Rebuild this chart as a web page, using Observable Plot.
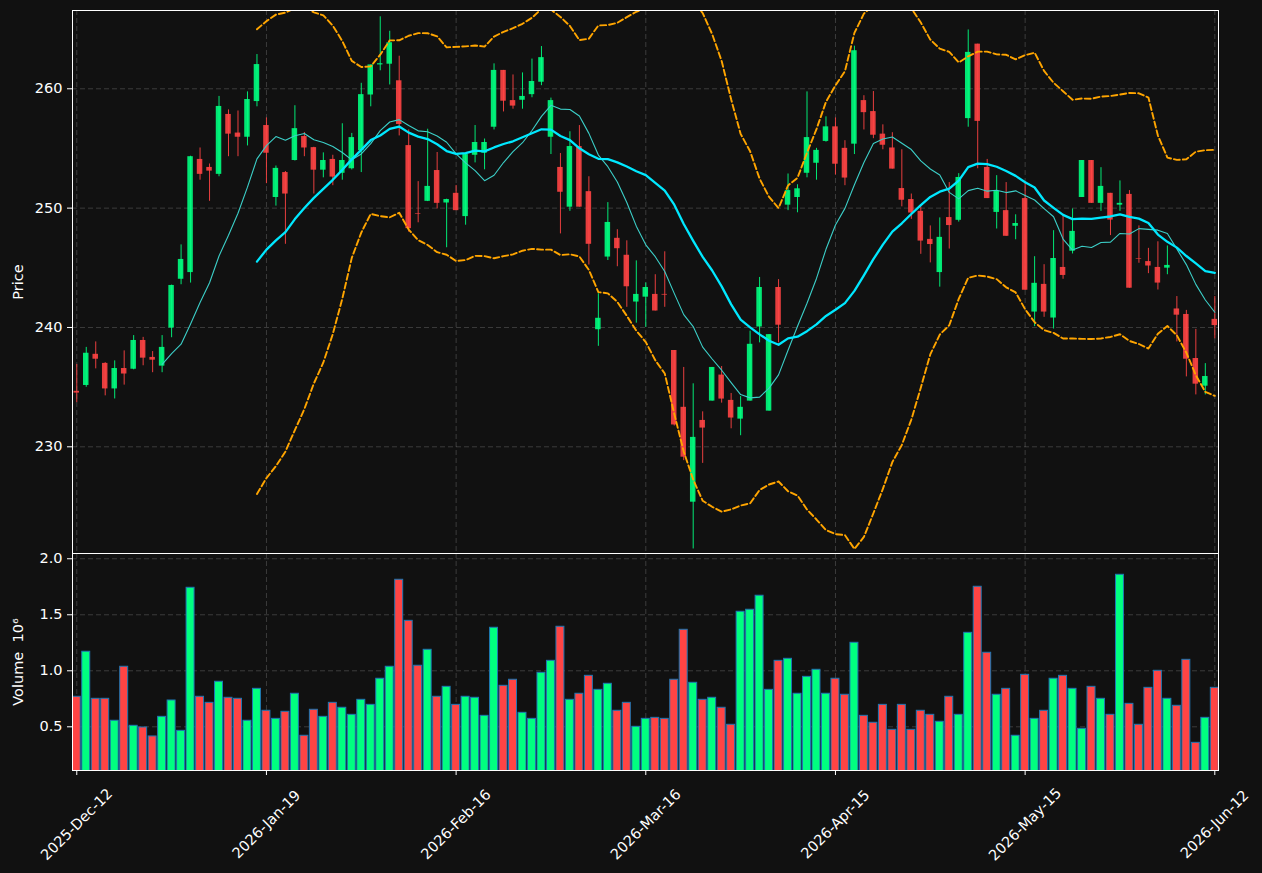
<!DOCTYPE html>
<html><head><meta charset="utf-8">
<script src="https://cdn.jsdelivr.net/npm/d3@7"></script>
<script src="https://cdn.jsdelivr.net/npm/@observablehq/plot@0.6"></script>
<style>
html,body{margin:0;padding:0;background:#111111;}
#chart{position:relative;width:1262px;height:873px;background:#111111;overflow:hidden;}
#chart svg{position:absolute;left:0;}
</style></head><body><div id="chart"></div>
<script>
const tickIndex = [0, 20, 40, 60, 80, 100, 120];
const tickLabels = ["2025-Dec-12", "2026-Jan-19", "2026-Feb-16", "2026-Mar-16", "2026-Apr-15", "2026-May-15", "2026-Jun-12"];
const priceTicks = [230, 240, 250, 260];
const volumeTicks = [0.5, 1.0, 1.5, 2.0];

const open = [234.65,235.14,237.75,236.99,234.85,236.56,236.5,238.91,237.49,236.76,
239.95,244.04,244.6,254.08,253.41,252.83,257.85,256.29,255.94,258.93,
256.92,250.89,252.98,253.99,256.0,255.07,253.18,254.08,252.92,253.3,
254.81,259.48,262.0,262.06,260.67,255.24,249.55,250.57,253.15,250.43,
251.24,249.29,254.43,254.6,256.78,261.54,259.01,259.04,259.51,260.55,
255.94,253.41,250.08,255.16,251.38,239.81,245.9,247.47,246.05,242.13,
242.54,242.77,242.77,238.07,233.31,225.36,232.21,233.83,236.01,233.89,
232.32,233.83,240.04,232.99,243.35,250.25,250.89,252.92,253.76,255.59,
256.81,255.01,255.36,259.01,258.09,256.2,255.04,251.64,250.72,249.73,
247.38,244.6,249.21,248.98,257.5,263.74,253.41,249.64,249.79,248.48,
250.8,241.29,243.61,240.79,245.03,246.39,250.89,253.99,250.4,251.24,
250.25,251.15,245.78,245.52,245.03,244.97,241.55,241.09,237.4,235.08,240.68];
const high = [236.9,238.33,238.79,237.05,237.2,238.04,239.32,239.17,237.98,239.32,
243.55,246.92,254.35,255.04,253.7,259.36,258.23,258.14,259.74,262.87,
257.56,253.53,253.07,258.58,256.34,255.1,254.63,254.43,257.07,256.26,
260.46,262.0,266.03,264.82,262.73,256.55,252.22,256.61,254.66,250.75,
251.9,254.49,256.92,255.79,262.09,261.54,261.16,261.33,262.49,263.54,
259.22,254.58,256.4,256.92,252.63,242.83,250.46,248.19,247.26,245.58,
243.73,244.42,246.34,238.07,236.65,235.28,232.93,236.65,236.73,234.47,
234.21,239.69,244.19,239.4,244.01,252.86,251.96,259.74,255.01,257.65,
257.56,255.65,263.57,259.42,259.77,256.98,256.32,254.89,251.18,250.11,
248.51,249.18,252.14,252.89,264.93,263.74,254.08,252.72,252.14,249.44,
252.2,245.93,245.26,248.11,249.44,249.93,253.99,253.99,253.39,251.24,
252.28,251.47,248.51,246.63,247.18,246.83,242.59,241.43,239.84,236.97,242.59];
const low = [233.7,234.99,236.53,234.27,234.01,235.17,236.45,236.79,236.21,236.21,
239.14,243.58,243.72,252.34,250.57,252.63,254.31,254.31,255.21,258.49,
252.05,250.17,246.97,253.95,254.31,251.18,252.54,251.88,252.34,253.2,
252.98,258.49,261.51,260.32,256.05,247.99,248.77,250.55,249.93,246.68,
249.79,248.57,253.79,253.21,256.55,258.06,258.29,258.29,259.25,260.26,
254.49,247.84,249.73,250.08,245.23,238.42,245.61,245.09,241.69,240.36,
240.01,241.38,241.69,231.74,228.84,221.44,228.61,233.83,233.66,231.51,
230.93,233.83,238.71,232.99,238.71,249.79,249.61,252.54,252.34,255.53,
252.78,251.88,254.49,256.55,255.82,254.89,253.27,250.11,249.06,246.13,
245.41,243.38,246.57,248.83,256.78,253.3,250.8,248.25,247.64,247.35,
243.12,240.07,240.85,239.87,244.04,246.16,250.89,250.4,249.73,247.7,
249.73,243.29,245.38,244.51,243.14,244.42,238.79,235.86,234.35,234.35,239.05];
const close = [234.5,237.84,237.34,234.85,236.56,236.1,238.91,237.43,237.26,238.33,
243.52,245.7,254.31,252.83,253.1,258.52,256.2,255.94,259.1,262.03,
254.6,253.33,251.18,256.66,255.04,253.18,253.99,252.6,253.99,255.91,
259.51,262.0,262.1,263.86,257.01,248.28,249.5,251.82,250.4,250.72,
249.79,254.49,255.5,255.5,261.54,258.96,258.55,259.36,260.61,262.61,
259.01,251.33,255.16,250.08,246.97,240.77,248.8,246.6,243.41,242.77,
243.35,241.38,242.71,231.83,229.13,230.79,231.57,236.65,234.0,232.41,
233.31,238.59,243.35,239.4,240.19,251.47,251.62,255.91,254.84,256.81,
253.68,252.52,263.19,258.0,256.11,255.27,253.27,250.66,249.59,247.24,
246.95,247.55,248.54,252.57,263.05,257.27,250.8,251.41,247.64,248.71,
243.12,243.7,241.29,245.78,244.36,248.05,253.99,250.4,251.82,249.0,
250.4,243.29,245.73,245.15,243.72,245.2,241.03,237.34,235.25,235.89,240.16];
// volume in millions (axis shows 10^6)
const volume = [0.768,1.17,0.75,0.75,0.554,1.036,0.509,0.494,0.414,0.589,
0.735,0.464,1.741,0.768,0.714,0.902,0.759,0.75,0.554,0.839,
0.643,0.571,0.634,0.795,0.42,0.652,0.589,0.714,0.67,0.607,
0.741,0.696,0.929,1.036,1.8125,1.446,1.045,1.1875,0.768,0.857,
0.696,0.768,0.759,0.598,1.384,0.866,0.92,0.625,0.571,0.982,
1.089,1.393,0.741,0.795,0.955,0.83,0.884,0.643,0.714,0.5,
0.571,0.58,0.571,0.92,1.366,0.893,0.741,0.759,0.67,0.518,
1.527,1.545,1.67,0.83,1.089,1.107,0.795,0.946,1.009,0.795,
0.929,0.786,1.25,0.598,0.536,0.696,0.473,0.696,0.473,0.643,
0.607,0.545,0.768,0.607,1.339,1.75,1.161,0.786,0.839,0.42,
0.964,0.571,0.643,0.929,0.955,0.839,0.482,0.857,0.75,0.607,
1.857,0.705,0.518,0.848,1.0,0.75,0.6875,1.098,0.357,0.58,0.848];

const rows = open.map((o, i) => ({i, open: o, high: high[i], low: low[i], close: close[i], volume: volume[i], up: close[i] >= o}));

const W = 1262, ML = 72, MR = 44;
const xDomain = [-0.45, 120.39];
const UP = "#00ff80", DOWN = "#ff4444";
const FONT = "'DejaVu Sans', sans-serif";
const gridStyle = {stroke: "#ffffff", strokeOpacity: 0.18, strokeDasharray: "5,3", strokeWidth: 1};
const styleObj = {background: "transparent", color: "#ffffff", fontFamily: FONT, fontSize: "14.5px"};
const col = d => d.up ? UP : DOWN;
const bandStyle = {x: "i", y: "close", stroke: "#ffa500", strokeWidth: 1.9, strokeDasharray: "6,3", clip: true};

const pricePlot = Plot.plot({
  width: W, height: 556, marginTop: 10, marginBottom: 3, marginLeft: ML, marginRight: MR,
  style: styleObj,
  color: {type: "identity"},
  x: {domain: xDomain, axis: null},
  y: {domain: [221.06, 266.56]},
  marks: [
    Plot.gridY(priceTicks, gridStyle),
    Plot.gridX(tickIndex, gridStyle),
    Plot.ruleX(rows, {x: "i", y1: "low", y2: "high", stroke: col, strokeOpacity: 0.9, strokeWidth: 1}),
    Plot.rect(rows, {x1: d => d.i - 0.29, x2: d => d.i + 0.29, y1: "open", y2: "close", fill: col, fillOpacity: 0.9}),
    Plot.lineY(rows, Plot.windowY({k: 20, anchor: "end", strict: true, reduce: v => d3.mean(v) + 2 * d3.deviation(v)}, bandStyle)),
    Plot.lineY(rows, Plot.windowY({k: 20, anchor: "end", strict: true, reduce: v => d3.mean(v) - 2 * d3.deviation(v)}, bandStyle)),
    Plot.lineY(rows, Plot.windowY({k: 10, anchor: "end", strict: true, reduce: "mean"},
      {x: "i", y: "close", stroke: "#3ccfc8", strokeWidth: 1.1, clip: true})),
    Plot.lineY(rows, Plot.windowY({k: 20, anchor: "end", strict: true, reduce: "mean"},
      {x: "i", y: "close", stroke: "#00e8ff", strokeWidth: 2.3, clip: true})),
    Plot.frame({stroke: "#ffffff", strokeWidth: 1}),
    Plot.axisY(priceTicks, {tickSize: 5, tickPadding: 5, label: "Price", labelAnchor: "center", labelOffset: 60, labelArrow: "none"})
  ]
});

const volPlot = Plot.plot({
  width: W, height: 323, marginTop: 3, marginBottom: 103, marginLeft: ML, marginRight: MR,
  style: styleObj,
  color: {type: "identity"},
  x: {domain: xDomain},
  y: {domain: [0.11, 2.047]},
  marks: [
    Plot.gridY(volumeTicks, gridStyle),
    Plot.gridX(tickIndex, gridStyle),
    Plot.rect(rows, {x1: d => d.i - 0.42, x2: d => d.i + 0.42, y1: 0, y2: "volume", fill: col, stroke: "#1f77b4", strokeWidth: 1, clip: true}),
    Plot.frame({stroke: "#ffffff", strokeWidth: 1}),
    Plot.axisY(volumeTicks, {tickSize: 5, tickPadding: 5, tickFormat: d3.format(".1f"), label: "Volume  10\u2076", labelAnchor: "center", labelOffset: 60, labelArrow: "none"}),
    Plot.axisX(tickIndex, {tickSize: 5, tickPadding: 49, tickRotate: -45, textAnchor: "middle", lineAnchor: "middle",
      tickFormat: d => tickLabels[tickIndex.indexOf(d)], label: null})
  ]
});

const chart = document.getElementById("chart");
pricePlot.style.top = "0px";
volPlot.style.top = "550px";
chart.appendChild(pricePlot);
chart.appendChild(volPlot);
</script>
</body></html>
